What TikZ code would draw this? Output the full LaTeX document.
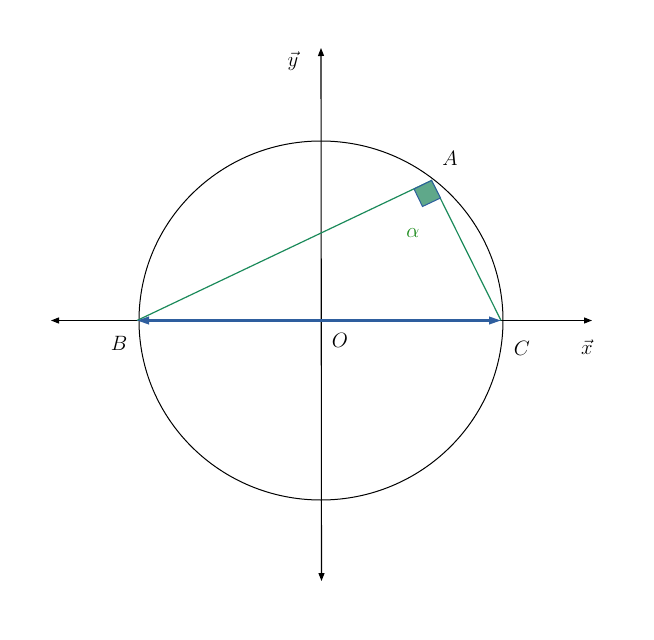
\documentclass[tikz,border=0pt]{standalone}
\usetikzlibrary{arrows.meta}
\definecolor{segGreen}{HTML}{1B8A5A}
\definecolor{segBlue}{HTML}{2E5E9E}
\definecolor{markFill}{HTML}{5FA88A}
\definecolor{alphaGreen}{HTML}{1A8A1A}
\begin{document}
\begin{tikzpicture}[x=1pt,y=-1pt,
  axis/.style={line width=1.1pt,black,{Triangle[length=8pt,width=6pt]}-{Triangle[length=8pt,width=6pt]}},
  seg/.style={line width=1.2pt,segGreen},
  diam/.style={line width=2.2pt,segBlue,{Triangle[length=12pt,width=7.5pt]}-{Triangle[length=12pt,width=7.5pt]}},
  lbl/.style={inner sep=0pt,font=\fontsize{20}{22}\selectfont}]
\useasboundingbox (0,0) rectangle (654,640);
\coordinate (O) at (321,320.5);
\coordinate (xl) at (51,320.5);
\coordinate (xr) at (592,320.5);
\coordinate (yt) at (321,48);
\coordinate (yb) at (321.5,581);
\coordinate (B) at (137,320.5);
\coordinate (C) at (501,320.5);
\coordinate (A) at (431.5,180.5);
\coordinate (P) at (414,189);
\coordinate (Q) at (440.5,198);
\coordinate (R) at (422.5,206.5);
\draw[line width=1pt] (O) ellipse (182 and 179.5);
\draw[axis] (xl) -- (xr);
\draw[axis] (yb) -- (yt);
\draw[seg] (B) -- (A) -- (C);
\draw[diam] (B) -- (C);
\draw[segBlue,fill=markFill,line width=1pt] (A) -- (P) -- (R) -- (Q) -- cycle;
\node[lbl] (lA) at (450,158) {$A$};
\node[lbl] (lB) at (119,343) {$B$};
\node[lbl] (lC) at (522,348) {$C$};
\node[lbl] (lO) at (340,340) {$O$};
\node[lbl,alphaGreen] (lal) at (413,233) {$\alpha$};
\node[lbl] (lx) at (587,347) {$\vec{x}$};
\node[lbl] (ly) at (293,61) {$\vec{y}$};
\end{tikzpicture}
\end{document}
